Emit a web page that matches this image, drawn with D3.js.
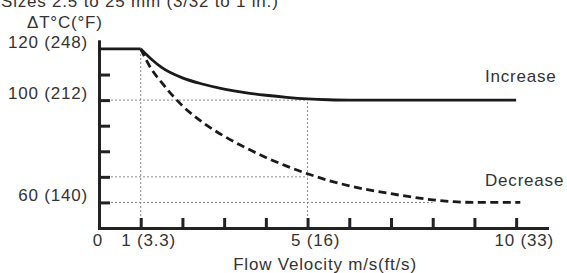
<!DOCTYPE html>
<meta charset="utf-8">
<style>
body { margin: 0; background: #fff; }
text {
  font-family: "Liberation Sans", Arial, sans-serif;
  font-size: 17px;
  letter-spacing: 0.8px;
  fill: #333;
}
.guide {
  stroke: #8a8a8a;
  stroke-width: 1;
  stroke-dasharray: 2,2;
  fill: none;
}
.axis path, .axis line {
  stroke: #222;
  stroke-width: 3;
}
</style>
<svg width="567" height="273"></svg>
<script src="https://d3js.org/d3.v7.min.js"></script>
<script>

// curve readings, flow velocity (m/s) vs delta T (deg C)
var incVel = [1, 1.25, 1.5, 2, 2.5, 3, 3.5, 4, 4.5, 5, 5.5, 6, 10];
var incDT  = [120, 116.1, 112.8, 108.7, 106.2, 104.3, 102.9, 101.9, 101.1, 100.5, 100.15, 100, 100];
var decVel = [1, 1.25, 1.5, 2, 2.5, 3, 3.5, 4, 4.5, 5, 5.5, 6, 6.5, 7, 7.5, 8, 8.5, 9, 10.1];
var decDT  = [120, 112.3, 106.9, 97.8, 91.1, 85.9, 81.5, 77.6, 74.2, 71.2, 68.6, 66.5, 64.8, 63.4, 62.1, 61, 60.3, 60, 60];
var flatVel = [0, 1];
var flatDT  = [120, 120];

// ticks and labels
var xTicks = [1, 2, 3, 4, 5, 6, 7, 8, 9, 10];
var xLabelVals = [0, 1, 5, 10];
var xLabels = ["0", "1 (3.3)", "5 (16)", "10 (33)"];
var yTicks = [60, 70, 80, 90, 100, 110];
var yLabelVals = [60, 100, 120];
var yLabels = ["60 (140)", "100 (212)", "120 (248)"];

// dotted reference lines
var vGuideVel = [1, 5];
var vGuideTop = [120, 100];
var hGuideDT  = [100, 70, 60];
var hGuideEnd = [5, 5, 8];

var svg = d3.select("svg");

var x = d3.scaleLinear().domain([0, 10.74]).range([99, 547]);
var y = d3.scaleLinear().domain([50, 123]).range([228, 41.3]);

function pts(xs, ys) {
  return xs.map(function(v, i) { return [v, ys[i]]; });
}

// guides
vGuideVel.forEach(function(v, i) {
  svg.append("line").attr("class", "guide")
    .attr("x1", x(v)).attr("x2", x(v))
    .attr("y1", y(50)).attr("y2", y(vGuideTop[i]));
});
hGuideDT.forEach(function(d, i) {
  svg.append("line").attr("class", "guide")
    .attr("x1", x(0)).attr("x2", x(hGuideEnd[i]))
    .attr("y1", y(d)).attr("y2", y(d));
});

// axes
svg.append("g").attr("class", "axis")
    .attr("transform", "translate(" + x(0) + ",0)")
    .call(d3.axisLeft(y).tickValues(yTicks).tickSize(-11).tickSizeOuter(0).tickFormat(""));
svg.append("g").attr("class", "axis")
    .attr("transform", "translate(0," + y(50) + ")")
    .call(d3.axisBottom(x).tickValues(xTicks).tickSize(-10).tickSizeOuter(0).tickFormat(""));
svg.selectAll(".axis path").attr("stroke-linecap", "square");

// curves
var curve = d3.line()
    .x(function(d) { return x(d[0]); })
    .y(function(d) { return y(d[1]); })
    .curve(d3.curveMonotoneX);

svg.append("path").datum(pts(flatVel, flatDT))
    .attr("d", d3.line().x(function(d) { return x(d[0]); }).y(function(d) { return y(d[1]); }))
    .attr("fill", "none").attr("stroke", "#1a1a1a").attr("stroke-width", 2.8);

svg.append("path").datum(pts(decVel, decDT))
    .attr("d", curve)
    .attr("fill", "none").attr("stroke", "#1a1a1a").attr("stroke-width", 2.8)
    .attr("stroke-dasharray", "8,4.5");

svg.append("path").datum(pts(incVel, incDT))
    .attr("d", curve)
    .attr("fill", "none").attr("stroke", "#1a1a1a").attr("stroke-width", 2.8);

// labels
svg.append("text").attr("x", 1).attr("y", 7)
    .text("Sizes 2.5 to 25 mm (3/32 to 1 in.)");
svg.append("text").attr("x", 27).attr("y", 28).text("\u0394T\u00b0C(\u00b0F)");

yLabelVals.forEach(function(v, i) {
  svg.append("text").attr("x", 88).attr("y", y(v) - 1)
    .attr("text-anchor", "end").text(yLabels[i]);
});
xLabelVals.forEach(function(v, i) {
  svg.append("text").attr("x", x(v) + (i ? 8 : -1)).attr("y", 246)
    .attr("text-anchor", "middle").text(xLabels[i]);
});
svg.append("text").attr("x", 325).attr("y", 270)
    .attr("text-anchor", "middle").text("Flow Velocity m/s(ft/s)");

svg.append("text").attr("x", 485).attr("y", 82).text("Increase");
svg.append("text").attr("x", 485).attr("y", 186).text("Decrease");

</script>
